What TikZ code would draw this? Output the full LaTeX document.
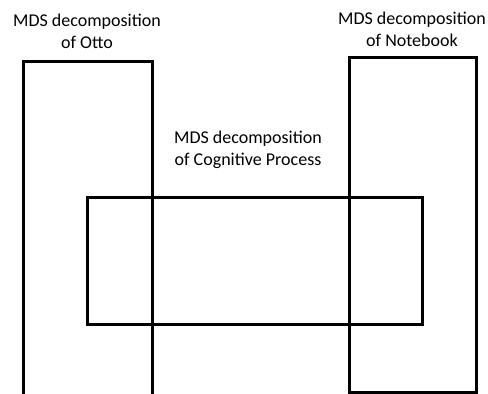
\documentclass[tikz,border=0pt]{standalone}
\usepackage{fontspec}
\setmainfont{Carlito}
\begin{document}
\begin{tikzpicture}[x=1pt,y=-1pt,
  frame/.style={line width=3pt, line join=miter},
  caption/.style={align=center, font=\fontsize{18}{22}\selectfont, inner sep=0pt}]
\useasboundingbox[fill=white] (0,0) rectangle (488,394);
% Otto: open at the bottom
\draw[frame] (23,394) -- (23,61) -- (152,61) -- (152,394);
% Notebook
\draw[frame] (349,57) rectangle (476,392);
% Cognitive process
\draw[frame] (87,197) rectangle (422,324);
\node[caption] (otto) at (87,31) {MDS decomposition\\of Otto};
\node[caption] (notebook) at (412,29) {MDS decomposition\\of Notebook};
\node[caption] (cog) at (248,150) {MDS decomposition\\of Cognitive Process};
\end{tikzpicture}
\end{document}
